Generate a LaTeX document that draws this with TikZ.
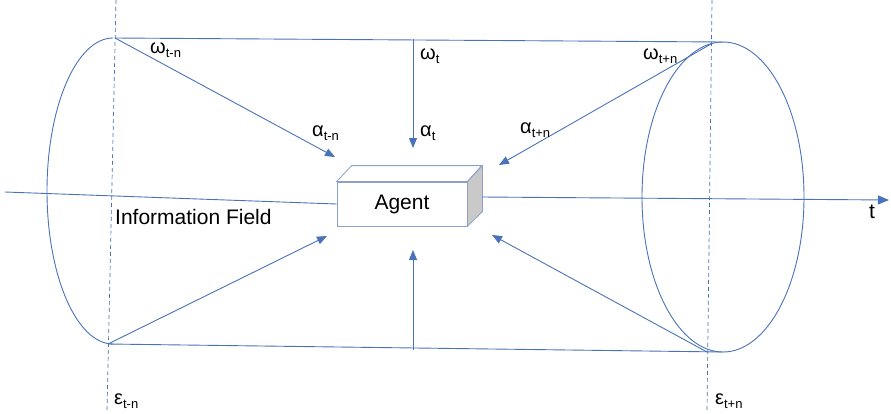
\documentclass[tikz,border=0pt]{standalone}
\usepackage{fontspec}
\setmainfont{Liberation Sans}
\usetikzlibrary{arrows.meta}
\definecolor{ln}{HTML}{4A72B8}
\definecolor{boxln}{HTML}{8DA0C8}
\definecolor{side}{HTML}{C9C9C9}
\newcommand\gsub[2]{#1\raisebox{-0.2em}{\fontsize{13}{13}\selectfont #2}}
\begin{document}
\begin{tikzpicture}[x=1pt,y=-1pt,
  ln/.style={draw=ln, line width=0.9pt},
  arr/.style={ln, -{Triangle[length=10pt,width=8pt]}},
  guide/.style={draw=ln, line width=0.7pt, dash pattern=on 4pt off 3pt},
  lab/.style={font=\fontsize{20}{24}\selectfont, anchor=base west, inner sep=0pt}]
\useasboundingbox (0,0) rectangle (891,413);
% key points
\coordinate (TL) at (115,38);
\coordinate (TM) at (413,39);
\coordinate (TR) at (711,44);
\coordinate (TRe) at (723,42);
\coordinate (BL) at (108,344);
\coordinate (BM) at (413,350);
\coordinate (BR) at (707,352);
\coordinate (BRe) at (723,352);
\coordinate (a1) at (335,157);
\coordinate (a2) at (413,148);
\coordinate (a3) at (499,165);
\coordinate (a4) at (327,236);
\coordinate (a5) at (413,250);
\coordinate (a6) at (492,235);
\coordinate (axL) at (5,192);
\coordinate (axR) at (889,200);
\coordinate (g1t) at (116,0);
\coordinate (g1b) at (107,411);
\coordinate (g2t) at (712,0);
\coordinate (g2b) at (707,411);
% guides
\draw[guide] (g1t) -- (g1b);
\draw[guide] (g2t) -- (g2b);
% cylinder
\draw[ln] (TL) -- (TRe);
\draw[ln] (BL) -- (BRe);
\draw[ln] (113,38) arc[start angle=90, end angle=270, x radius=66pt, y radius=153pt];
\draw[ln] (723,197) ellipse[x radius=81pt, y radius=155pt];
% agent box
\node[draw=boxln, line width=0.8pt, fill=white, minimum width=130pt, minimum height=44pt, inner sep=0pt,
      font=\fontsize{21}{24}\selectfont] (agent) at (402,204) {Agent};
\draw[boxln, line width=0.8pt, fill=white] (agent.north west) -- ++(15,-16) -- ++(130,0) -- (agent.north east) -- cycle;
\draw[boxln, line width=0.8pt, fill=side] (agent.north east) -- ++(15,-16) -- ++(0,46) -- (agent.south east) -- cycle;
\coordinate (axR0) at (482,197);
% axis
\draw[ln] (axL) -- (agent.west);
\draw[ln, -{Triangle[length=11pt,width=9pt]}] (axR0) -- (axR);
% arrows
\draw[arr] (TL) -- (a1);
\draw[arr] (TM) -- (a2);
\draw[arr] (TR) -- (a3);
\draw[arr] (BL) -- (a4);
\draw[arr] (BM) -- (a5);
\draw[arr] (BR) -- (a6);
% labels
\node[lab] (l1) at (150,53) {\gsub{ω}{t-n}};
\node[lab] (l2) at (420,59) {\gsub{ω}{t}};
\node[lab] (l3) at (643,59) {\gsub{ω}{t+n}};
\node[lab] (l4) at (312,136) {\gsub{α}{t-n}};
\node[lab] (l5) at (420,136) {\gsub{α}{t}};
\node[lab] (l6) at (520,133) {\gsub{α}{t+n}};
\node[lab] (l7) at (114,404) {\gsub{ε}{t-n}};
\node[lab] (l8) at (715,404) {\gsub{ε}{t+n}};
\node[lab, font=\fontsize{21}{24}\selectfont] (l9) at (115,224) {Information Field};
\node[lab, font=\fontsize{21}{24}\selectfont] (l10) at (869,218) {t};
\end{tikzpicture}
\end{document}
